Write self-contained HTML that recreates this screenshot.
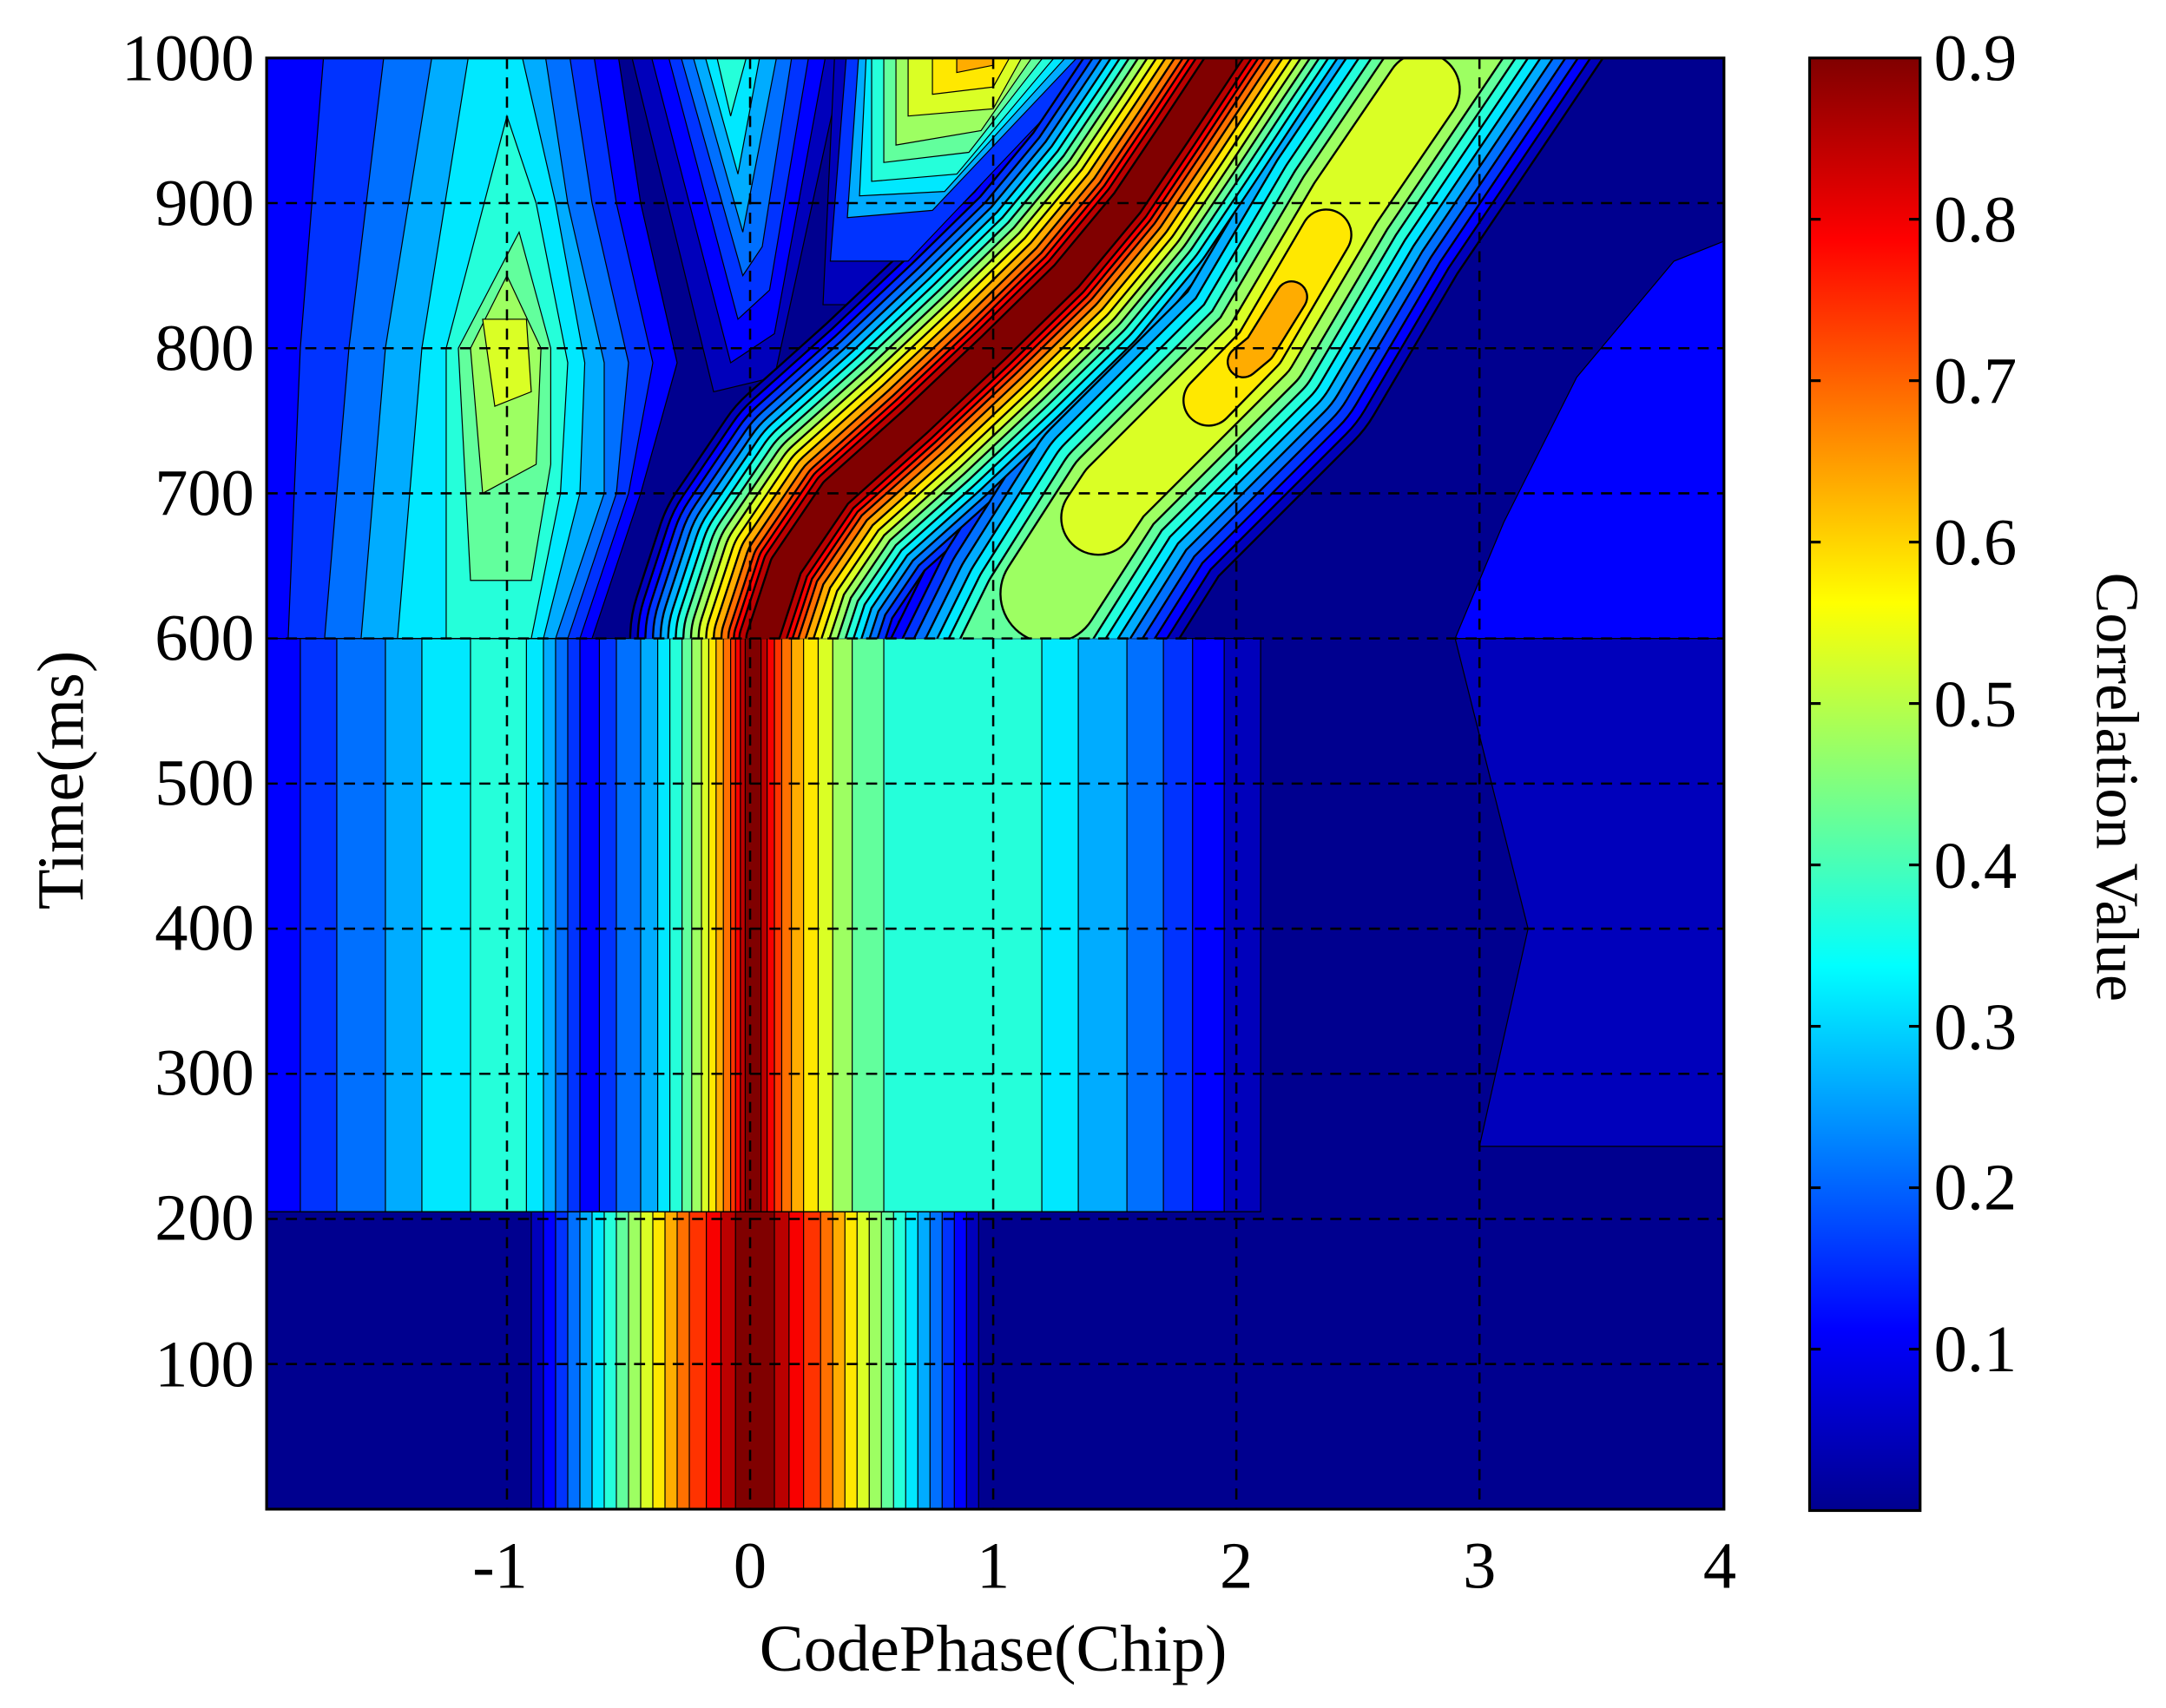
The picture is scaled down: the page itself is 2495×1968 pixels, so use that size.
<!DOCTYPE html>
<html><head><meta charset="utf-8"><style>
html,body{margin:0;padding:0;background:#fff;}
svg{display:block;}
.d *{vector-effect:non-scaling-stroke;}
text{font-family:"Liberation Serif",serif;fill:#000;}
</style></head><body>
<svg width="2495" height="1968" viewBox="0 0 1568 1237" preserveAspectRatio="none" xmlns="http://www.w3.org/2000/svg">
<defs>
<clipPath id="cc"><rect x="193" y="42" width="1055" height="420.4"/></clipPath>
<clipPath id="pa"><rect x="193" y="42" width="1055" height="1051"/></clipPath>
<linearGradient id="jet" x1="0" y1="0" x2="0" y2="1">
<stop offset="0" stop-color="#800000"/><stop offset="0.125" stop-color="#FF0000"/><stop offset="0.375" stop-color="#FFFF00"/><stop offset="0.625" stop-color="#00FFFF"/><stop offset="0.875" stop-color="#0000FF"/><stop offset="1" stop-color="#00008F"/>
</linearGradient>
</defs>
<rect x="193" y="42" width="1055" height="1051" fill="#00008F"/>
<g clip-path="url(#pa)">
<!-- Region A -->
<g class="d" transform="translate(543,1093) scale(176,-1.051)" stroke="#000" stroke-width="1.2">
<rect x="-0.9" y="0" width="1.84" height="205" fill="#0000BB"/>
<rect x="-0.85" y="0" width="1.74" height="205" fill="#0000FF"/>
<rect x="-0.8" y="0" width="1.64" height="205" fill="#0033FF"/>
<rect x="-0.75" y="0" width="1.54" height="205" fill="#0070FF"/>
<rect x="-0.7" y="0" width="1.44" height="205" fill="#00ACFF"/>
<rect x="-0.65" y="0" width="1.34" height="205" fill="#00E8FF"/>
<rect x="-0.6" y="0" width="1.24" height="205" fill="#25FFDA"/>
<rect x="-0.55" y="0" width="1.14" height="205" fill="#62FF9D"/>
<rect x="-0.5" y="0" width="1.04" height="205" fill="#9DFF62"/>
<rect x="-0.45" y="0" width="0.94" height="205" fill="#DAFF25"/>
<rect x="-0.4" y="0" width="0.84" height="205" fill="#FFE800"/>
<rect x="-0.35" y="0" width="0.74" height="205" fill="#FFAC00"/>
<rect x="-0.3" y="0" width="0.64" height="205" fill="#FF7000"/>
<rect x="-0.25" y="0" width="0.54" height="205" fill="#FF3300"/>
<rect x="-0.18" y="0" width="0.4" height="205" fill="#F80000"/>
<rect x="-0.12" y="0" width="0.28" height="205" fill="#BB0000"/>
<rect x="-0.06" y="0" width="0.16" height="205" fill="#800000"/>
</g>
<!-- Region B -->
<g class="d" transform="translate(543,1093) scale(176,-1.051)" stroke="#000" stroke-width="1.2">
<rect x="-2.1" y="205" width="4.2" height="395" fill="#0000BB"/>
<polygon points="3.0,250 4.1,250 4.1,600 2.9,600 3.2,400" fill="#0000BB"/>
<rect x="-2.1" y="205" width="4.05" height="395" fill="#0000FF"/>
<rect x="-1.85" y="205" width="1.15" height="395" fill="#0033FF"/>
<rect x="-0.62" y="205" width="2.44" height="395" fill="#0033FF"/>
<rect x="-1.7" y="205" width="0.95" height="395" fill="#0070FF"/>
<rect x="-0.55" y="205" width="2.25" height="395" fill="#0070FF"/>
<rect x="-1.5" y="205" width="0.7" height="395" fill="#00ACFF"/>
<rect x="-0.45" y="205" width="2.0" height="395" fill="#00ACFF"/>
<rect x="-1.35" y="205" width="0.5" height="395" fill="#00E8FF"/>
<rect x="-0.38" y="205" width="1.73" height="395" fill="#00E8FF"/>
<rect x="-1.15" y="205" width="0.23" height="395" fill="#25FFDA"/>
<rect x="-0.33" y="205" width="1.53" height="395" fill="#25FFDA"/>
<rect x="-0.28" y="205" width="0.83" height="395" fill="#62FF9D"/>
<rect x="-0.24" y="205" width="0.66" height="395" fill="#9DFF62"/>
<rect x="-0.2" y="205" width="0.54" height="395" fill="#DAFF25"/>
<rect x="-0.17" y="205" width="0.45" height="395" fill="#FFE800"/>
<rect x="-0.14" y="205" width="0.36" height="395" fill="#FFAC00"/>
<rect x="-0.11" y="205" width="0.28" height="395" fill="#FF7000"/>
<rect x="-0.08" y="205" width="0.21" height="395" fill="#FF3300"/>
<rect x="-0.06" y="205" width="0.16" height="395" fill="#F80000"/>
<rect x="-0.04" y="205" width="0.11" height="395" fill="#BB0000"/>
<rect x="-0.02" y="205" width="0.065" height="395" fill="#800000"/>
</g>
<!-- Region C L1 -->
<g class="d" transform="translate(543,1093) scale(176,-1.051)" stroke="#000" stroke-width="1.2">
<polygon points="2.9,600 4.1,600 4.1,880 3.8,860 3.4,780 3.1,680" fill="#0000FF"/>
<polygon points="-0.15,770 0.1,780 0.4,1010 -0.5,1010" fill="#0000BB"/>
<polygon points="0.3,830 0.6,830 1.6,1010 0.35,1010" fill="#0000BB"/>
</g>
<g clip-path="url(#cc)" fill="none" stroke-linejoin="round" stroke-linecap="round">
<polyline points="550,520 552,462 569,410 605,357 663,305 719,252 772,200 816,147 851,95 886,42 921,-10" stroke="#000" stroke-width="193"/>
<polyline points="550,520 552,462 569,410 605,357 663,305 719,252 772,200 816,147 851,95 886,42 921,-10" stroke="#0000BB" stroke-width="190"/>
<polyline points="715,520 754,441 807,357 912,252 974,147 1045,42 1080,-10" stroke="#000" stroke-width="193"/>
<polyline points="715,520 754,441 807,357 912,252 974,147 1045,42 1080,-10" stroke="#0000BB" stroke-width="190"/>
</g>
<!-- L2 -->
<g class="d" transform="translate(543,1093) scale(176,-1.051)" stroke="#000" stroke-width="1.2">
<polygon points="-2.1,600 -0.65,600 -0.45,700 -0.3,790 -0.45,900 -0.55,1010 -2.1,1010" fill="#0000FF"/>
<polygon points="-0.08,790 0.1,810 0.32,1010 -0.42,1010" fill="#0000FF"/>
</g>
<g clip-path="url(#cc)" fill="none" stroke-linejoin="round" stroke-linecap="round">
<polyline points="550,520 552,462 569,410 605,357 663,305 719,252 772,200 816,147 851,95 886,42 921,-10" stroke="#000" stroke-width="182"/>
<polyline points="550,520 552,462 569,410 605,357 663,305 719,252 772,200 816,147 851,95 886,42 921,-10" stroke="#0000FF" stroke-width="179"/>
<polyline points="715,520 754,441 807,357 912,252 974,147 1045,42 1080,-10" stroke="#000" stroke-width="178"/>
<polyline points="715,520 754,441 807,357 912,252 974,147 1045,42 1080,-10" stroke="#0000FF" stroke-width="175"/>
</g>
<!-- L3 -->
<g class="d" transform="translate(543,1093) scale(176,-1.051)" stroke="#000" stroke-width="1.2">
<polygon points="-1.9,600 -0.7,600 -0.5,700 -0.4,790 -0.55,900 -0.65,1010 -1.75,1010 -1.85,800" fill="#0033FF"/>
<polygon points="-0.05,820 0.08,840 0.25,1010 -0.35,1010" fill="#0033FF"/>
<polygon points="0.33,860 0.65,860 1.5,1010 0.4,1010" fill="#0033FF"/>
</g>
<g clip-path="url(#cc)" fill="none" stroke-linejoin="round" stroke-linecap="round">
<polyline points="550,520 552,462 569,410 605,357 663,305 719,252 772,200 816,147 851,95 886,42 921,-10" stroke="#000" stroke-width="171"/>
<polyline points="550,520 552,462 569,410 605,357 663,305 719,252 772,200 816,147 851,95 886,42 921,-10" stroke="#0033FF" stroke-width="168"/>
<polyline points="715,520 754,441 807,357 912,252 974,147 1045,42 1080,-10" stroke="#000" stroke-width="163"/>
<polyline points="715,520 754,441 807,357 912,252 974,147 1045,42 1080,-10" stroke="#0033FF" stroke-width="160"/>
</g>
<!-- L4 -->
<g class="d" transform="translate(543,1093) scale(176,-1.051)" stroke="#000" stroke-width="1.2">
<polygon points="-1.75,600 -0.75,600 -0.55,700 -0.5,790 -0.65,900 -0.75,1010 -1.5,1010 -1.65,800" fill="#0070FF"/>
<polygon points="-0.03,850 0.05,870 0.18,1010 -0.3,1010" fill="#0070FF"/>
</g>
<g clip-path="url(#cc)" fill="none" stroke-linejoin="round" stroke-linecap="round">
<polyline points="550,520 552,462 569,410 605,357 663,305 719,252 772,200 816,147 851,95 886,42 921,-10" stroke="#000" stroke-width="160"/>
<polyline points="550,520 552,462 569,410 605,357 663,305 719,252 772,200 816,147 851,95 886,42 921,-10" stroke="#0070FF" stroke-width="157"/>
<polyline points="715,520 754,441 807,357 912,252 974,147 1045,42 1080,-10" stroke="#000" stroke-width="148"/>
<polyline points="715,520 754,441 807,357 912,252 974,147 1045,42 1080,-10" stroke="#0070FF" stroke-width="145"/>
</g>
<!-- L5 -->
<g class="d" transform="translate(543,1093) scale(176,-1.051)" stroke="#000" stroke-width="1.2">
<polygon points="-1.6,600 -0.8,600 -0.6,700 -0.6,790 -0.75,900 -0.85,1010 -1.3,1010 -1.5,800" fill="#00ACFF"/>
<polygon points="-0.03,880 0.12,1010 -0.25,1010" fill="#00ACFF"/>
<polygon points="0.4,890 0.75,895 1.4,1010 0.45,1010" fill="#00ACFF"/>
</g>
<g clip-path="url(#cc)" fill="none" stroke-linejoin="round" stroke-linecap="round">
<polyline points="550,520 552,462 569,410 605,357 663,305 719,252 772,200 816,147 851,95 886,42 921,-10" stroke="#000" stroke-width="149"/>
<polyline points="550,520 552,462 569,410 605,357 663,305 719,252 772,200 816,147 851,95 886,42 921,-10" stroke="#00ACFF" stroke-width="146"/>
<polyline points="715,520 754,441 807,357 912,252 974,147 1045,42 1080,-10" stroke="#000" stroke-width="133"/>
<polyline points="715,520 754,441 807,357 912,252 974,147 1045,42 1080,-10" stroke="#00ACFF" stroke-width="130"/>
</g>
<!-- L6 -->
<g class="d" transform="translate(543,1093) scale(176,-1.051)" stroke="#000" stroke-width="1.2">
<polygon points="-1.45,600 -0.85,600 -0.7,700 -0.68,790 -0.8,900 -0.95,1010 -1.15,1010 -1.35,800" fill="#00E8FF"/>
<polygon points="-0.05,920 0.05,1010 -0.2,1010" fill="#00E8FF"/>
<polygon points="0.45,905 0.8,908 1.35,1010 0.48,1010" fill="#00E8FF"/>
</g>
<g clip-path="url(#cc)" fill="none" stroke-linejoin="round" stroke-linecap="round">
<polyline points="550,520 552,462 569,410 605,357 663,305 719,252 772,200 816,147 851,95 886,42 921,-10" stroke="#000" stroke-width="138"/>
<polyline points="550,520 552,462 569,410 605,357 663,305 719,252 772,200 816,147 851,95 886,42 921,-10" stroke="#00E8FF" stroke-width="135"/>
<polyline points="715,520 754,441 807,357 912,252 974,147 1045,42 1080,-10" stroke="#000" stroke-width="118"/>
<polyline points="715,520 754,441 807,357 912,252 974,147 1045,42 1080,-10" stroke="#00E8FF" stroke-width="115"/>
</g>
<!-- L7 -->
<g class="d" transform="translate(543,1093) scale(176,-1.051)" stroke="#000" stroke-width="1.2">
<polygon points="-1.25,600 -0.9,600 -0.78,700 -0.75,790 -0.88,900 -1.0,960 -1.25,800" fill="#25FFDA"/>
<polygon points="-0.08,960 0.0,1010 -0.15,1010" fill="#25FFDA"/>
<polygon points="0.5,915 0.85,920 1.3,1010 0.5,1010" fill="#25FFDA"/>
</g>
<g clip-path="url(#cc)" fill="none" stroke-linejoin="round" stroke-linecap="round">
<polyline points="550,520 552,462 569,410 605,357 663,305 719,252 772,200 816,147 851,95 886,42 921,-10" stroke="#000" stroke-width="127"/>
<polyline points="550,520 552,462 569,410 605,357 663,305 719,252 772,200 816,147 851,95 886,42 921,-10" stroke="#25FFDA" stroke-width="124"/>
<polyline points="715,520 754,441 807,357 912,252 974,147 1045,42 1080,-10" stroke="#000" stroke-width="103"/>
<polyline points="715,520 754,441 807,357 912,252 974,147 1045,42 1080,-10" stroke="#25FFDA" stroke-width="100"/>
</g>
<!-- L8 -->
<g class="d" transform="translate(543,1093) scale(176,-1.051)" stroke="#000" stroke-width="1.2">
<polygon points="-1.15,640 -0.9,640 -0.82,720 -0.82,800 -0.95,880 -1.2,800" fill="#62FF9D"/>
<polygon points="0.55,928 0.9,935 1.25,1010 0.55,1010" fill="#62FF9D"/>
</g>
<g clip-path="url(#cc)" fill="none" stroke-linejoin="round" stroke-linecap="round">
<polyline points="550,520 552,462 569,410 605,357 663,305 719,252 772,200 816,147 851,95 886,42 921,-10" stroke="#000" stroke-width="116"/>
<polyline points="550,520 552,462 569,410 605,357 663,305 719,252 772,200 816,147 851,95 886,42 921,-10" stroke="#62FF9D" stroke-width="113"/>
<polyline points="715,520 754,441 807,357 912,252 974,147 1045,42 1080,-10" stroke="#000" stroke-width="88"/>
<polyline points="715,520 754,441 807,357 912,252 974,147 1045,42 1080,-10" stroke="#62FF9D" stroke-width="85"/>
</g>
<!-- L9 -->
<g class="d" transform="translate(543,1093) scale(176,-1.051)" stroke="#000" stroke-width="1.2">
<polygon points="-1.1,700 -0.88,720 -0.86,800 -1.0,850 -1.15,800" fill="#9DFF62"/>
<polygon points="0.6,940 0.95,950 1.2,1010 0.6,1010" fill="#9DFF62"/>
</g>
<g clip-path="url(#cc)" fill="none" stroke-linejoin="round" stroke-linecap="round">
<polyline points="550,520 552,462 569,410 605,357 663,305 719,252 772,200 816,147 851,95 886,42 921,-10" stroke="#000" stroke-width="105"/>
<polyline points="550,520 552,462 569,410 605,357 663,305 719,252 772,200 816,147 851,95 886,42 921,-10" stroke="#9DFF62" stroke-width="102"/>
<polyline points="760,430 807,357 912,252 974,147 1045,42 1080,-10" stroke="#000" stroke-width="73"/>
<polyline points="760,430 807,357 912,252 974,147 1045,42 1080,-10" stroke="#9DFF62" stroke-width="70"/>
</g>
<!-- L10 -->
<g class="d" transform="translate(543,1093) scale(176,-1.051)" stroke="#000" stroke-width="1.2">
<polygon points="-1.05,760 -0.9,770 -0.92,820 -1.1,820" fill="#DAFF25"/>
<polygon points="0.65,960 1.0,965 1.15,1010 0.65,1010" fill="#DAFF25"/>
</g>
<g clip-path="url(#cc)" fill="none" stroke-linejoin="round" stroke-linecap="round">
<polyline points="550,520 552,462 569,410 605,357 663,305 719,252 772,200 816,147 851,95 886,42 921,-10" stroke="#000" stroke-width="94"/>
<polyline points="550,520 552,462 569,410 605,357 663,305 719,252 772,200 816,147 851,95 886,42 921,-10" stroke="#DAFF25" stroke-width="91"/>
<polyline points="795,375 807,357 912,252 974,147 1030,65" stroke="#000" stroke-width="55"/>
<polyline points="795,375 807,357 912,252 974,147 1030,65" stroke="#DAFF25" stroke-width="52"/>
</g>
<!-- L11 -->
<g class="d" transform="translate(543,1093) scale(176,-1.051)" stroke="#000" stroke-width="1.2">
<polygon points="0.75,975 1.0,980 1.1,1010 0.75,1010" fill="#FFE800"/>
</g>
<g clip-path="url(#cc)" fill="none" stroke-linejoin="round" stroke-linecap="round">
<polyline points="550,520 552,462 569,410 605,357 663,305 719,252 772,200 816,147 851,95 886,42 921,-10" stroke="#000" stroke-width="83"/>
<polyline points="550,520 552,462 569,410 605,357 663,305 719,252 772,200 816,147 851,95 886,42 921,-10" stroke="#FFE800" stroke-width="80"/>
<polyline points="875,290 912,252 960,170" stroke="#000" stroke-width="38"/>
<polyline points="875,290 912,252 960,170" stroke="#FFE800" stroke-width="35"/>
</g>
<!-- L12 -->
<g class="d" transform="translate(543,1093) scale(176,-1.051)" stroke="#000" stroke-width="1.2">
<polygon points="0.85,990 1.0,995 1.0,1010 0.85,1010" fill="#FFAC00"/>
</g>
<g clip-path="url(#cc)" fill="none" stroke-linejoin="round" stroke-linecap="round">
<polyline points="550,520 552,462 569,410 605,357 663,305 719,252 772,200 816,147 851,95 886,42 921,-10" stroke="#000" stroke-width="72"/>
<polyline points="550,520 552,462 569,410 605,357 663,305 719,252 772,200 816,147 851,95 886,42 921,-10" stroke="#FFAC00" stroke-width="69"/>
<polyline points="900,262 912,252 935,215" stroke="#000" stroke-width="24"/>
<polyline points="900,262 912,252 935,215" stroke="#FFAC00" stroke-width="21"/>
</g>
<!-- L13-17 main ridge -->
<g clip-path="url(#cc)" fill="none" stroke-linejoin="round" stroke-linecap="round">
<polyline points="550,520 552,462 569,410 605,357 663,305 719,252 772,200 816,147 851,95 886,42 921,-10" stroke="#000" stroke-width="61"/>
<polyline points="550,520 552,462 569,410 605,357 663,305 719,252 772,200 816,147 851,95 886,42 921,-10" stroke="#FF7000" stroke-width="58"/>
<polyline points="550,520 552,462 569,410 605,357 663,305 719,252 772,200 816,147 851,95 886,42 921,-10" stroke="#000" stroke-width="51"/>
<polyline points="550,520 552,462 569,410 605,357 663,305 719,252 772,200 816,147 851,95 886,42 921,-10" stroke="#FF3300" stroke-width="48"/>
<polyline points="550,520 552,462 569,410 605,357 663,305 719,252 772,200 816,147 851,95 886,42 921,-10" stroke="#000" stroke-width="43"/>
<polyline points="550,520 552,462 569,410 605,357 663,305 719,252 772,200 816,147 851,95 886,42 921,-10" stroke="#F80000" stroke-width="40"/>
<polyline points="550,520 552,462 569,410 605,357 663,305 719,252 772,200 816,147 851,95 886,42 921,-10" stroke="#000" stroke-width="35"/>
<polyline points="550,520 552,462 569,410 605,357 663,305 719,252 772,200 816,147 851,95 886,42 921,-10" stroke="#BB0000" stroke-width="32"/>
<polyline points="550,520 552,462 569,410 605,357 663,305 719,252 772,200 816,147 851,95 886,42 921,-10" stroke="#000" stroke-width="25"/>
<polyline points="550,520 552,462 569,410 605,357 663,305 719,252 772,200 816,147 851,95 886,42 921,-10" stroke="#800000" stroke-width="22"/>
</g>
</g>
<!-- grid -->
<g stroke="#000" stroke-width="1.6" stroke-dasharray="8,6" fill="none">
<line x1="367" y1="42" x2="367" y2="1093"/><line x1="543" y1="42" x2="543" y2="1093"/><line x1="719" y1="42" x2="719" y2="1093"/><line x1="895" y1="42" x2="895" y2="1093"/><line x1="1071" y1="42" x2="1071" y2="1093"/>
<line x1="193" y1="987.9" x2="1248" y2="987.9"/><line x1="193" y1="882.8" x2="1248" y2="882.8"/><line x1="193" y1="777.7" x2="1248" y2="777.7"/><line x1="193" y1="672.6" x2="1248" y2="672.6"/><line x1="193" y1="567.5" x2="1248" y2="567.5"/><line x1="193" y1="462.4" x2="1248" y2="462.4"/><line x1="193" y1="357.3" x2="1248" y2="357.3"/><line x1="193" y1="252.2" x2="1248" y2="252.2"/><line x1="193" y1="147.1" x2="1248" y2="147.1"/>
</g>
<rect x="193" y="42" width="1055" height="1051" fill="none" stroke="#000" stroke-width="2"/>
<g font-size="48" text-anchor="end">
<text x="184" y="58">1000</text><text x="184" y="163">900</text><text x="184" y="268">800</text><text x="184" y="373">700</text><text x="184" y="478">600</text><text x="184" y="583">500</text><text x="184" y="688">400</text><text x="184" y="793">300</text><text x="184" y="898">200</text><text x="184" y="1004">100</text>
</g>
<g font-size="48" text-anchor="middle">
<text x="362" y="1150">-1</text><text x="543" y="1150">0</text><text x="719" y="1150">1</text><text x="895" y="1150">2</text><text x="1071" y="1150">3</text><text x="1245" y="1150">4</text>
</g>
<text x="719" y="1210" font-size="48" text-anchor="middle">CodePhase(Chip)</text>
<text transform="translate(60,565) rotate(-90)" font-size="48" text-anchor="middle">Time(ms)</text>
<rect x="1310" y="42" width="80" height="1052" fill="url(#jet)" stroke="#000" stroke-width="2"/>
<g stroke="#000" stroke-width="2">
<line x1="1310" y1="158.8" x2="1318" y2="158.8"/><line x1="1382" y1="158.8" x2="1390" y2="158.8"/>
<line x1="1310" y1="275.7" x2="1318" y2="275.7"/><line x1="1382" y1="275.7" x2="1390" y2="275.7"/>
<line x1="1310" y1="392.6" x2="1318" y2="392.6"/><line x1="1382" y1="392.6" x2="1390" y2="392.6"/>
<line x1="1310" y1="509.5" x2="1318" y2="509.5"/><line x1="1382" y1="509.5" x2="1390" y2="509.5"/>
<line x1="1310" y1="626.4" x2="1318" y2="626.4"/><line x1="1382" y1="626.4" x2="1390" y2="626.4"/>
<line x1="1310" y1="743.3" x2="1318" y2="743.3"/><line x1="1382" y1="743.3" x2="1390" y2="743.3"/>
<line x1="1310" y1="860.2" x2="1318" y2="860.2"/><line x1="1382" y1="860.2" x2="1390" y2="860.2"/>
<line x1="1310" y1="977.1" x2="1318" y2="977.1"/><line x1="1382" y1="977.1" x2="1390" y2="977.1"/>
</g>
<g font-size="48">
<text x="1400" y="58">0.9</text><text x="1400" y="175">0.8</text><text x="1400" y="292">0.7</text><text x="1400" y="409">0.6</text><text x="1400" y="526">0.5</text><text x="1400" y="643">0.4</text><text x="1400" y="760">0.3</text><text x="1400" y="876">0.2</text><text x="1400" y="993">0.1</text>
</g>
<text transform="translate(1518,570) rotate(90)" font-size="44" text-anchor="middle">Correlation Value</text>
</svg>
</body></html>
